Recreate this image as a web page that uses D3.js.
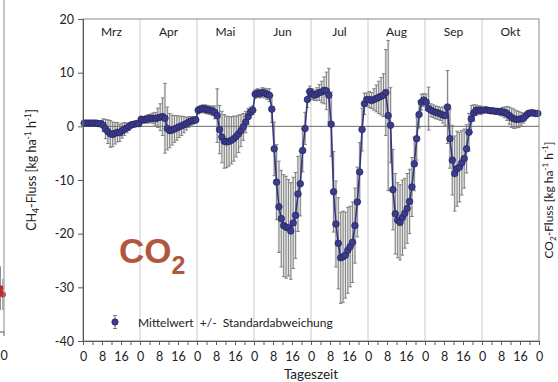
<!DOCTYPE html>
<html>
<head>
<meta charset="utf-8">
<script src="https://cdn.jsdelivr.net/npm/d3@7"></script>
<style>
  html, body { margin: 0; padding: 0; background: #fff; }
  svg { display: block; font-family: Lato, "Open Sans", sans-serif; }
</style>
</head>
<body>
<svg id="chart" width="558" height="382"></svg>
<script>
// monthly mean diurnal cycles, hourly values 0..23 h
const months = ['Mrz', 'Apr', 'Mai', 'Jun', 'Jul', 'Aug', 'Sep', 'Okt'];

const meanMrz = [0.6, 0.6, 0.6, 0.6, 0.6, 0.6, 0.5, 0.5, 0.2, -0.5, -1.0, -1.4, -1.5, -1.3, -1.1, -1.2, -0.8, -0.5, -0.3, 0.0, 0.3, 0.4, 0.5, 0.5];
const meanApr = [1.3, 1.2, 1.3, 1.4, 1.5, 1.5, 1.4, 1.6, 1.7, 1.8, 1.5, -0.4, -0.8, -0.7, -0.5, -0.3, -0.1, 0.1, 0.3, 0.5, 0.8, 1.0, 1.1, 1.2];
const meanMai = [3.0, 3.2, 3.3, 3.2, 3.1, 3.0, 2.9, 2.6, 2.0, -0.6, -2.0, -2.8, -2.9, -2.8, -2.6, -2.3, -1.9, -1.4, -0.8, -0.1, 0.8, 1.8, 2.6, 3.0];
const meanJun = [6.0, 6.2, 6.1, 6.3, 6.2, 6.0, 5.8, 3.2, -4.2, -10.4, -15.0, -17.2, -18.5, -18.8, -18.9, -19.5, -18.0, -16.6, -12.6, -10.7, -4.5, -0.4, 5.0, 6.5];
const meanJul = [6.0, 5.8, 6.0, 6.3, 6.4, 6.7, 6.6, 5.8, 0.4, -12.2, -18.2, -21.8, -24.5, -24.3, -24.0, -23.1, -22.4, -21.6, -18.5, -14.1, -8.5, -0.6, 4.2, 5.0];
const meanAug = [5.0, 4.8, 5.0, 5.2, 5.4, 5.6, 5.8, 6.3, 2.0, 0.2, -11.8, -16.3, -17.5, -17.9, -17.0, -16.2, -15.3, -14.0, -11.3, -7.0, -2.3, 2.2, 4.5, 4.9];
const meanSep = [4.5, 3.3, 3.0, 2.8, 2.6, 2.5, 2.3, 2.1, 2.0, 3.6, -2.3, -6.3, -8.8, -7.9, -7.6, -6.8, -6.0, -4.2, -1.1, 1.4, 2.5, 3.0, 3.0, 3.0];
const meanOkt = [3.0, 3.1, 3.0, 2.9, 2.9, 2.8, 2.8, 2.7, 2.7, 2.6, 2.4, 2.0, 1.6, 1.4, 1.3, 1.3, 1.4, 1.5, 2.0, 2.4, 2.5, 2.5, 2.4, 2.4];

const sdMrz = [0.3, 0.3, 0.3, 0.3, 0.3, 0.3, 0.4, 0.5, 1.2, 1.8, 2.2, 2.5, 2.3, 2.0, 1.8, 1.6, 1.4, 1.2, 0.9, 0.7, 0.5, 0.4, 0.3, 0.3];
const sdApr = [0.6, 0.6, 0.7, 0.8, 0.8, 1.0, 1.2, 1.8, 2.5, 3.5, 6.5, 4.0, 3.2, 2.8, 2.5, 2.3, 2.0, 1.8, 1.5, 1.2, 1.0, 0.8, 0.7, 0.6];
const sdMai = [0.7, 0.7, 0.7, 0.8, 0.8, 0.8, 0.9, 1.2, 5.0, 4.5, 4.8, 5.0, 4.8, 4.6, 4.4, 4.2, 3.8, 3.5, 3.0, 2.5, 2.0, 1.5, 1.0, 0.8];
const sdJun = [0.8, 0.8, 0.8, 0.9, 0.9, 1.0, 1.2, 2.5, 5.0, 7.0, 8.5, 9.0, 9.5, 9.5, 9.0, 9.0, 8.5, 8.0, 7.0, 6.0, 4.0, 3.0, 1.5, 1.0];
const sdJul = [1.0, 1.0, 1.2, 1.5, 2.0, 2.5, 3.5, 5.0, 6.0, 7.5, 8.0, 8.5, 8.5, 8.5, 8.0, 8.0, 7.5, 7.5, 7.0, 6.5, 5.5, 4.0, 2.0, 1.2];
const sdAug = [1.5, 1.5, 2.0, 2.5, 3.0, 3.5, 4.0, 8.0, 14.0, 7.0, 7.5, 7.5, 7.0, 7.0, 7.0, 6.5, 6.5, 6.0, 5.5, 5.0, 4.0, 2.5, 1.5, 1.2];
const sdSep = [1.5, 4.0, 1.2, 1.2, 1.2, 1.2, 1.2, 1.5, 1.8, 6.8, 5.5, 6.5, 7.0, 7.0, 6.5, 6.0, 5.5, 4.5, 3.5, 2.5, 1.5, 1.0, 0.8, 0.8];
const sdOkt = [0.4, 0.4, 0.4, 0.4, 0.4, 0.4, 0.5, 0.6, 0.8, 1.0, 1.3, 1.6, 1.8, 1.8, 1.6, 1.5, 1.2, 0.9, 0.6, 0.5, 0.4, 0.4, 0.4, 0.4];

const yTicks = [20, 10, 0, -10, -20, -30, -40];
const xTickStep = 4;      // tick marks every 4 h
const xLabelStep = 8;     // labels 0, 8, 16

// tail of the neighbouring CH4 panel (cut off at the left edge)
const ch4Hours = [20.5, 21.5, 22.5, 23.5];
const ch4Mean = [0.15, 0.13, 0.14, 0.12];
const ch4Sd = [0.06, 0.05, 0.07, 0.05];

const means = [meanMrz, meanApr, meanMai, meanJun, meanJul, meanAug, meanSep, meanOkt];
const sds = [sdMrz, sdApr, sdMai, sdJun, sdJul, sdAug, sdSep, sdOkt];

const rows = [];
months.forEach((m, mi) => {
  means[mi].forEach((v, h) => {
    rows.push({ t: mi * 24 + h + 0.5, mean: v, sd: sds[mi][h] });
  });
});

const svg = d3.select('#chart');
const plot = { left: 83, right: 539, top: 19, bottom: 341 };
const axisColor = '#595959';
const navy = '#34347f';

const x = d3.scaleLinear().domain([0, months.length * 24]).range([plot.left, plot.right]);
const y = d3.scaleLinear().domain([-40, 20]).range([plot.bottom, plot.top]);

// month separators
svg.append('g')
  .selectAll('line')
  .data(d3.range(1, months.length))
  .join('line')
  .attr('x1', d => x(d * 24)).attr('x2', d => x(d * 24))
  .attr('y1', plot.top).attr('y2', plot.bottom)
  .attr('stroke', '#dcdcdc')
  .attr('stroke-width', 1.5);

// light band behind the error bars (the dense bars read as a grey fill)
const half = (x(1) - x(0)) / 2;
svg.append('g')
  .selectAll('rect')
  .data(rows)
  .join('rect')
  .attr('x', d => x(d.t) - half)
  .attr('width', half * 2)
  .attr('y', d => y(d.mean + d.sd))
  .attr('height', d => y(d.mean - d.sd) - y(d.mean + d.sd))
  .attr('fill', '#e2e2e2');

// zero line
svg.append('line')
  .attr('x1', plot.left).attr('x2', plot.right)
  .attr('y1', y(0)).attr('y2', y(0))
  .attr('stroke', '#6b6b6b')
  .attr('stroke-width', 1);

// month names
svg.append('g')
  .selectAll('text')
  .data(months)
  .join('text')
  .attr('x', (d, i) => x(i * 24 + 12))
  .attr('y', 36)
  .attr('text-anchor', 'middle')
  .attr('font-size', 12)
  .attr('fill', '#222')
  .text(d => d);

// error bars
const bars = svg.append('g').attr('stroke', '#777').attr('stroke-width', 0.9);
bars.selectAll('line.bar')
  .data(rows)
  .join('line')
  .attr('class', 'bar')
  .attr('x1', d => x(d.t)).attr('x2', d => x(d.t))
  .attr('y1', d => y(d.mean - d.sd)).attr('y2', d => y(d.mean + d.sd));
bars.selectAll('line.capHi')
  .data(rows)
  .join('line')
  .attr('class', 'capHi')
  .attr('x1', d => x(d.t) - 1.8).attr('x2', d => x(d.t) + 1.8)
  .attr('y1', d => y(d.mean + d.sd)).attr('y2', d => y(d.mean + d.sd));
bars.selectAll('line.capLo')
  .data(rows)
  .join('line')
  .attr('class', 'capLo')
  .attr('x1', d => x(d.t) - 1.8).attr('x2', d => x(d.t) + 1.8)
  .attr('y1', d => y(d.mean - d.sd)).attr('y2', d => y(d.mean - d.sd));

// mean line + points
svg.append('path')
  .datum(rows)
  .attr('fill', 'none')
  .attr('stroke', navy)
  .attr('stroke-width', 1.6)
  .attr('d', d3.line().x(d => x(d.t)).y(d => y(d.mean)));

svg.append('g')
  .selectAll('circle')
  .data(rows)
  .join('circle')
  .attr('cx', d => x(d.t))
  .attr('cy', d => y(d.mean))
  .attr('r', 3.3)
  .attr('fill', '#3c3c8e')
  .attr('stroke', '#23235a')
  .attr('stroke-width', 0.7);

// frame
svg.append('rect')
  .attr('x', plot.left).attr('y', plot.top)
  .attr('width', plot.right - plot.left).attr('height', plot.bottom - plot.top)
  .attr('fill', 'none')
  .attr('stroke', '#8a8a8a')
  .attr('stroke-width', 1);

// axes
const yAxis = svg.append('g')
  .attr('transform', `translate(${plot.left},0)`)
  .call(d3.axisLeft(y).tickValues(yTicks).tickSize(5).tickPadding(4).tickFormat(d => String(d)));
const xAxis = svg.append('g')
  .attr('transform', `translate(0,${plot.bottom})`)
  .call(d3.axisBottom(x)
    .tickValues(d3.range(0, months.length * 24 + 1, xTickStep))
    .tickSize(4).tickPadding(7)
    .tickFormat(d => d % xLabelStep === 0 ? String(d % 24) : ''));
[yAxis, xAxis].forEach(a => {
  a.select('.domain').attr('stroke', axisColor);
  a.selectAll('.tick line').attr('stroke', axisColor);
  a.selectAll('.tick text').attr('fill', '#222').attr('font-size', 12.5).attr('font-family', 'Lato, sans-serif');
});

// legend
const lg = svg.append('g').attr('transform', 'translate(115,322)');
lg.append('line').attr('y1', -6.5).attr('y2', 6.5).attr('stroke', '#7a7a7a');
lg.append('line').attr('x1', -2).attr('x2', 2).attr('y1', -6.5).attr('y2', -6.5).attr('stroke', '#7a7a7a');
lg.append('line').attr('x1', -2).attr('x2', 2).attr('y1', 6.5).attr('y2', 6.5).attr('stroke', '#7a7a7a');
lg.append('circle').attr('r', 3.2).attr('fill', '#3c3c8e').attr('stroke', '#23235a').attr('stroke-width', 0.7);
lg.append('text')
  .attr('x', 23).attr('y', 4.5)
  .attr('font-size', 12)
  .attr('fill', '#222')
  .attr('xml:space', 'preserve')
  .text('Mittelwert  +/-  Standardabweichung');

// big CO2 tag
const tag = svg.append('text')
  .attr('x', 119).attr('y', 263)
  .attr('font-family', '"Liberation Sans", Arial, sans-serif')
  .attr('font-weight', 'bold')
  .attr('font-size', 35)
  .attr('fill', '#b1573d');
tag.append('tspan').text('CO');
tag.append('tspan').attr('font-size', 25).attr('dy', 11).text('2');

// x axis title
svg.append('text')
  .attr('x', 311).attr('y', 379)
  .attr('text-anchor', 'middle')
  .attr('font-size', 13.5)
  .attr('fill', '#222')
  .text('Tageszeit');

function fluxLabel(g, gas, sub, size) {
  const small = size * 0.68;
  const t = g.append('text')
    .attr('text-anchor', 'middle')
    .attr('font-size', size)
    .attr('fill', '#222');
  t.append('tspan').text(gas);
  t.append('tspan').attr('font-size', small).attr('dy', 3).text(sub);
  t.append('tspan').attr('dy', -3).text('-Fluss [kg ha');
  t.append('tspan').attr('font-size', small).attr('dy', -5).text('-1');
  t.append('tspan').attr('dy', 5).text(' h');
  t.append('tspan').attr('font-size', small).attr('dy', -5).text('-1');
  t.append('tspan').attr('dy', 5).text(']');
  return t;
}
// y axis title on the right (belongs to the CO2 panel)
fluxLabel(svg.append('g').attr('transform', 'translate(553,200) rotate(-90)'), 'CO', '2', 12);

// neighbouring CH4 panel, only its right edge is visible
const leftPanel = { right: 4, top: 0, bottom: 332 };
const xl = d3.scaleLinear().domain([0, 24]).range([leftPanel.right - 57, leftPanel.right]);
const yl = d3.scaleLinear().domain([0, 1]).range([leftPanel.bottom, 19]);
const ch4Rows = ch4Hours.map((h, i) => ({ t: h, mean: ch4Mean[i], sd: ch4Sd[i] }));

fluxLabel(svg.append('g').attr('transform', 'translate(36,170) rotate(-90)'), 'CH', '4', 12.5);

const lp = svg.append('g');
lp.selectAll('line.bar')
  .data(ch4Rows)
  .join('line')
  .attr('class', 'bar')
  .attr('x1', d => xl(d.t)).attr('x2', d => xl(d.t))
  .attr('y1', d => yl(d.mean - d.sd)).attr('y2', d => yl(d.mean + d.sd))
  .attr('stroke', '#8a8a8a');
lp.append('path')
  .datum(ch4Rows)
  .attr('fill', 'none')
  .attr('stroke', '#c0282a')
  .attr('stroke-width', 2)
  .attr('d', d3.line().x(d => xl(d.t)).y(d => yl(d.mean)));
lp.selectAll('circle')
  .data(ch4Rows)
  .join('circle')
  .attr('cx', d => xl(d.t)).attr('cy', d => yl(d.mean))
  .attr('r', 3)
  .attr('fill', '#c42a2a');
lp.append('line')
  .attr('x1', leftPanel.right).attr('x2', leftPanel.right)
  .attr('y1', leftPanel.top).attr('y2', leftPanel.bottom)
  .attr('stroke', '#8a8a8a');
lp.append('line')
  .attr('x1', 0).attr('x2', leftPanel.right)
  .attr('y1', leftPanel.bottom).attr('y2', leftPanel.bottom)
  .attr('stroke', axisColor);
lp.append('line')
  .attr('x1', leftPanel.right).attr('x2', leftPanel.right)
  .attr('y1', leftPanel.bottom).attr('y2', leftPanel.bottom + 4)
  .attr('stroke', axisColor);
lp.append('text')
  .attr('x', xl(24)).attr('y', leftPanel.bottom + 28)
  .attr('text-anchor', 'middle')
  .attr('font-size', 12.5)
  .attr('fill', '#222')
  .text('0');
</script>
</body>
</html>
